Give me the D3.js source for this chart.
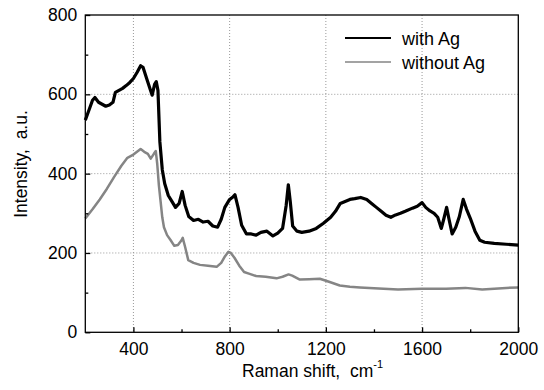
<!DOCTYPE html>
<html><head><meta charset="utf-8">
<script src="https://cdn.jsdelivr.net/npm/d3@7"></script>
<style>
body{margin:0;background:#fff;}
text{font-family:"Liberation Sans",Arial,Helvetica,sans-serif;fill:#000;white-space:pre;}
</style></head>
<body><svg id="c" width="544" height="390"></svg>
<script>
// Raman shift (cm^-1) and intensity (a.u.)
const shiftWith = [200,215,230,240,255,270,285,300,315,325,340,355,370,385,400,415,430,440,455,470,478,488,495,502,510,520,530,545,560,575,590,603,615,630,650,670,690,710,730,750,765,780,800,815,822,835,850,870,890,910,930,955,980,1000,1020,1035,1044,1052,1062,1080,1100,1130,1160,1190,1220,1240,1260,1280,1300,1320,1345,1370,1390,1410,1430,1450,1470,1490,1510,1530,1560,1580,1600,1615,1633,1650,1665,1680,1690,1702,1712,1725,1740,1755,1771,1785,1800,1820,1840,1860,1900,1950,2000];
const intensityWith = [535,560,585,592,580,575,570,573,580,605,610,615,622,630,640,655,672,668,640,612,598,625,632,610,480,410,375,345,330,315,325,355,320,292,282,285,278,280,268,265,285,315,335,342,347,315,270,248,248,245,252,255,243,250,262,320,372,330,268,255,252,255,262,275,290,305,325,330,335,337,340,335,325,315,305,295,290,296,300,305,313,318,327,315,306,300,290,262,285,315,285,248,265,292,335,310,288,255,232,227,224,222,220];
const shiftWithout = [200,230,260,290,320,350,375,400,415,430,445,460,472,485,493,499,506,513,520,527,540,555,570,585,600,605,615,628,650,677,710,746,765,781,795,805,820,840,860,880,910,950,995,1020,1045,1060,1092,1130,1175,1210,1258,1300,1342,1400,1500,1600,1700,1780,1850,1950,2000];
const intensityWithout = [287,310,335,362,392,420,440,448,455,462,455,450,438,450,457,425,370,330,290,265,245,232,218,220,232,238,215,182,175,170,168,165,175,192,203,200,188,168,152,148,142,140,136,140,146,143,133,134,135,128,118,115,113,111,108,110,110,112,108,112,113];
const seriesNames = ["with Ag","without Ag"];
const seriesColors = ["#000000","#858585"];
const xTicks = [400,800,1200,1600,2000];
const xMinor = [600,1000,1400,1800];
const yTicks = [0,200,400,600,800];
const yMinor = [100,300,500,700];

const svg = d3.select("#c");
const L=85.3,R=518.3,T=15,B=332.3;
const x = d3.scaleLinear().domain([200,2000]).range([L,R]);
const y = d3.scaleLinear().domain([0,800]).range([B,T]);

// grid
const g = svg.append("g");
g.selectAll("line.gx").data(xTicks.filter(d=>d<2000)).enter().append("line")
 .attr("x1",d=>x(d)).attr("x2",d=>x(d)).attr("y1",T).attr("y2",B)
 .attr("stroke","#999").attr("stroke-width",1).attr("stroke-dasharray","1,2");
g.selectAll("line.gy").data(yTicks.filter(d=>d>0&&d<800)).enter().append("line")
 .attr("y1",d=>y(d)).attr("y2",d=>y(d)).attr("x1",L).attr("x2",R)
 .attr("stroke","#999").attr("stroke-width",1).attr("stroke-dasharray","1,2");

// lines
const lw = d3.line().x((d,i)=>x(shiftWith[i])).y(d=>y(d));
const lo = d3.line().x((d,i)=>x(shiftWithout[i])).y(d=>y(d));
svg.append("path").attr("d",lo(intensityWithout)).attr("fill","none").attr("stroke",seriesColors[1]).attr("stroke-width",2.5).attr("stroke-linejoin","round");
svg.append("path").attr("d",lw(intensityWith)).attr("fill","none").attr("stroke",seriesColors[0]).attr("stroke-width",3.2).attr("stroke-linejoin","round");

// frame
svg.append("rect").attr("x",L).attr("y",T).attr("width",R-L).attr("height",B-T).attr("fill","none").attr("stroke","#000").attr("stroke-width",1.3);

// axes
const xa = svg.append("g").attr("transform",`translate(0,${B})`)
 .call(d3.axisBottom(x).tickValues(xTicks).tickSize(-5).tickPadding(10).tickFormat(d3.format("d")));
const xm = svg.append("g").attr("transform",`translate(0,${B})`)
 .call(d3.axisBottom(x).tickValues(xMinor).tickSize(-3).tickFormat(""));
const ya = svg.append("g").attr("transform",`translate(${L},0)`)
 .call(d3.axisLeft(y).tickValues(yTicks).tickSize(-5).tickPadding(8).tickFormat(d3.format("d")));
const ym = svg.append("g").attr("transform",`translate(${L},0)`)
 .call(d3.axisLeft(y).tickValues(yMinor).tickSize(-3).tickFormat(""));
[xa,xm,ya,ym].forEach(a=>{a.select(".domain").remove();a.selectAll("line").attr("stroke","#000").attr("stroke-width",1.3);
 a.selectAll("text").attr("font-size",17.5).attr("font-family","Liberation Sans, Arial, sans-serif").attr("fill","#000");});

// axis titles
const xt = svg.append("text").attr("x",242).attr("y",377).attr("font-size",17.5);
xt.append("tspan").text("Raman shift,  cm");
xt.append("tspan").attr("font-size",11).attr("dy",-9).text("-1");
svg.append("text").attr("transform","translate(27,164) rotate(-90)").attr("text-anchor","middle").attr("font-size",17.5).text("Intensity,  a.u.");

// legend
const lg = svg.append("g");
seriesNames.forEach((n,i)=>{
  lg.append("line").attr("x1",345).attr("x2",391).attr("y1",38+i*24).attr("y2",38+i*24).attr("stroke",seriesColors[i]).attr("stroke-width",i?1.6:1.8);
  lg.append("text").attr("x",402).attr("y",45+i*24).attr("font-size",18).text(n);
});
</script></body></html>
